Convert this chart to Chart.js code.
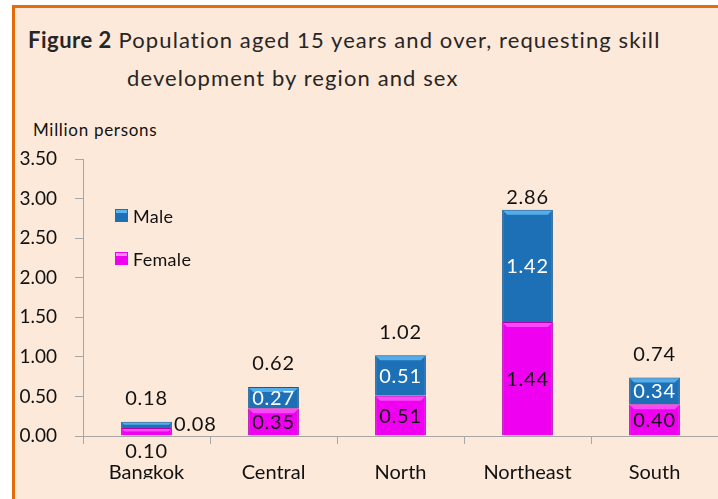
<!DOCTYPE html>
<html>
<head>
<meta charset="utf-8">
<script src="https://cdn.jsdelivr.net/npm/chart.js@4.4.0/dist/chart.umd.min.js"></script>
<style>
  body { margin: 0; background: #ffffff; font-family: Lato, "Noto Sans", sans-serif; }
  #frame {
    position: absolute; left: 12px; top: 5px; width: 706px; height: 494px;
    background: #fde9d9; border-top: 3px solid #e46c0a; border-left: 3px solid #e46c0a;
    box-sizing: border-box;
  }
  #title { position: absolute; left: 28px; top: 21px; font-size: 22px; letter-spacing: 1.1px; color: #262626; line-height: 38px; }
  #title b { font-weight: bold; letter-spacing: 0.5px; }
  #unit { position: absolute; left: 33px; top: 119px; font-size: 17px; letter-spacing: 0.7px; color: #111; }
  #wrap { position: absolute; left: 0; top: 0; width: 718px; height: 499px; }
</style>
</head>
<body>
<div id="frame"></div>
<div id="title"><b>Figure 2</b> Population aged 15 years and over, requesting skill<br><span style="padding-left:99px">development by region and sex</span></div>
<div id="unit">Million persons</div>
<div id="wrap"><canvas id="myChart"></canvas></div>
<script>
  // values (million persons)
  var regions = ["Bangkok", "Central", "North", "Northeast", "South"];
  var female = [0.10, 0.35, 0.51, 1.44, 0.40];
  var male = [0.08, 0.27, 0.51, 1.42, 0.34];
  var totals = [0.18, 0.62, 1.02, 2.86, 0.74];
  var yTicks = [0, 0.5, 1, 1.5, 2, 2.5, 3, 3.5];

  var labelFont = "20px Lato, 'Noto Sans', sans-serif";

  // bevel strip on top of each bar, drawn from the bar elements
  var bevel = {
    id: 'bevel',
    afterDatasetsDraw: function(chart) {
      var ctx = chart.ctx;
      var tops = ['rgba(255,120,255,0.6)', 'rgba(90,180,240,0.9)'];
      chart.data.datasets.forEach(function(ds, i) {
        chart.getDatasetMeta(i).data.forEach(function(bar) {
          var h = bar.base - bar.y;
          var s = Math.min(4, h / 3);
          var half = bar.width / 2;
          ctx.save();
          ctx.fillStyle = tops[i];
          ctx.beginPath();
          ctx.moveTo(bar.x - half + 1, bar.y + 1);
          ctx.lineTo(bar.x + half - 1, bar.y + 1);
          ctx.lineTo(bar.x + half - 1 - s, bar.y + 1 + s);
          ctx.lineTo(bar.x - half + 1 + s, bar.y + 1 + s);
          ctx.closePath();
          ctx.fill();
          ctx.restore();
        });
      });
    }
  };

  // value labels, totals and the legend inside the plot
  var labels = {
    id: 'labels',
    afterDraw: function(chart) {
      var ctx = chart.ctx;
      var fMeta = chart.getDatasetMeta(0).data;
      var mMeta = chart.getDatasetMeta(1).data;
      ctx.save();
      ctx.font = labelFont;
      ctx.letterSpacing = '0.8px';
      ctx.textBaseline = 'middle';
      regions.forEach(function(r, i) {
        var fb = fMeta[i], mb = mMeta[i];
        var small = (fb.base - fb.y) < 16;
        if (small) {
          ctx.fillStyle = '#111';
          ctx.textAlign = 'center';
          ctx.fillText(female[i].toFixed(2), fb.x, fb.base + 16);
          ctx.textAlign = 'left';
          ctx.fillText(male[i].toFixed(2), mb.x + mb.width / 2 + 2, (mb.y + mb.base) / 2);
        } else {
          ctx.textAlign = 'center';
          ctx.fillStyle = '#111';
          ctx.fillText(female[i].toFixed(2), fb.x, (fb.y + fb.base) / 2 + 1);
          ctx.fillStyle = '#ffffff';
          ctx.fillText(male[i].toFixed(2), mb.x, (mb.y + mb.base) / 2 + 1);
        }
        ctx.fillStyle = '#111';
        ctx.textAlign = 'center';
        var yTop = chart.scales.y.getPixelForValue(totals[i]);
        var off = totals[i] > 2 ? 12 : 23;
        ctx.fillText(totals[i].toFixed(2), mb.x, yTop - off);
      });

      // legend
      var items = [['Male', '#1d6fb6', '#5ab4f0', 216], ['Female', '#f000f0', '#ff8cff', 259]];
      ctx.font = "18px Lato, 'Noto Sans', sans-serif";
      ctx.letterSpacing = '0.3px';
      ctx.textAlign = 'left';
      items.forEach(function(it) {
        ctx.fillStyle = it[1];
        ctx.fillRect(115, it[3] - 7, 13, 13);
        ctx.fillStyle = it[2];
        ctx.fillRect(116, it[3] - 6, 11, 3);
        ctx.fillStyle = '#111';
        ctx.fillText(it[0], 133, it[3] + 1);
      });
      ctx.restore();
    }
  };

  var ctx = document.getElementById('myChart');
  new Chart(ctx, {
    type: 'bar',
    data: {
      labels: regions,
      datasets: [
        { label: 'Female', data: female, backgroundColor: '#f000f0', borderColor: '#b000b0', borderWidth: 1 },
        { label: 'Male', data: male, backgroundColor: '#1d6fb6', borderColor: '#155a94', borderWidth: 1 }
      ]
    },
    options: {
      responsive: true,
      maintainAspectRatio: false,
      animation: false,
      categoryPercentage: 1,
      barPercentage: 0.4,
      layout: { padding: { top: 159, bottom: 20, left: 0, right: 0 } },
      plugins: { legend: { display: false }, tooltip: { enabled: false } },
      scales: {
        x: {
          stacked: true,
          border: { color: '#a6a6a6', width: 1 },
          grid: { drawOnChartArea: false, drawTicks: true, tickLength: 8, color: '#a6a6a6' },
          ticks: { color: '#111', font: { family: 'Lato', size: 20 }, padding: 17 },
          afterFit: function(s) { s.height = 43; }
        },
        y: {
          stacked: true,
          min: 0,
          max: 3.5,
          border: { color: '#a6a6a6', width: 1 },
          grid: { drawOnChartArea: false, drawTicks: true, tickLength: 8, color: '#a6a6a6' },
          afterBuildTicks: function(s) { s.ticks = yTicks.map(function(v) { return { value: v }; }); },
          ticks: {
            color: '#111', font: { family: 'Lato', size: 19 }, padding: 18,
            callback: function(v) { return Number(v).toFixed(2); }
          },
          afterFit: function(s) { s.width = 83; }
        }
      }
    },
    plugins: [bevel, labels]
  });
</script>
</body>
</html>
